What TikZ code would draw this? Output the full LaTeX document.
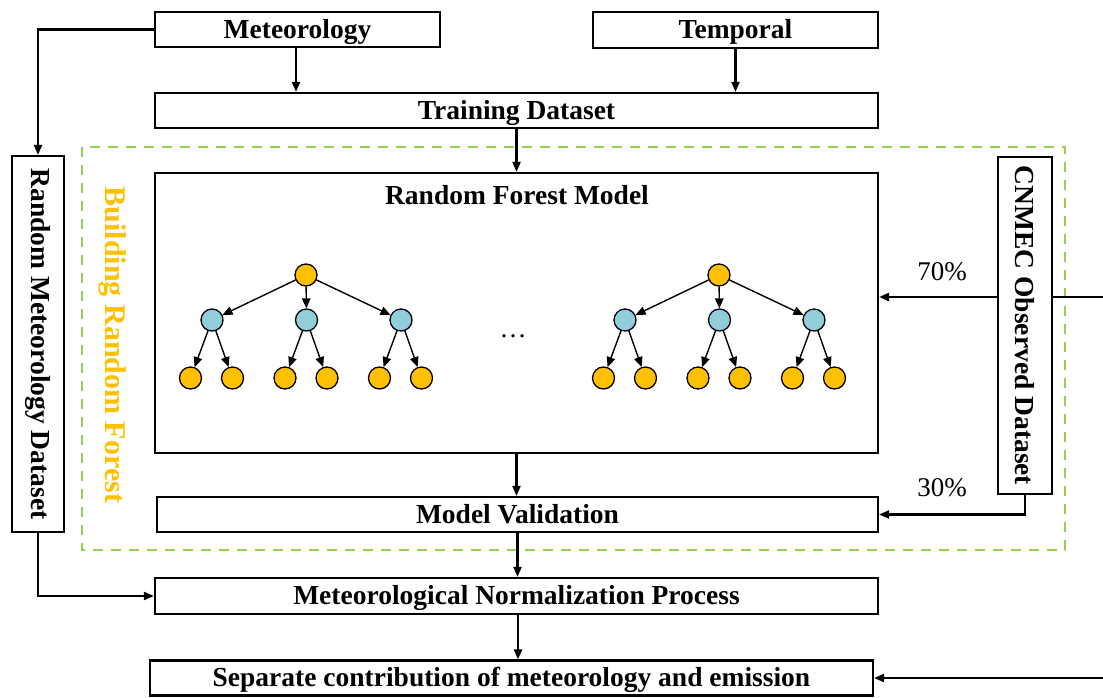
\documentclass[tikz,border=0pt]{standalone}
\usepackage{fontspec}
\setmainfont{Liberation Serif}
\usetikzlibrary{arrows.meta,calc}
\definecolor{rforange}{HTML}{FFC000}
\definecolor{rfblue}{HTML}{92CDDC}
\definecolor{rfgreen}{HTML}{92D050}
\begin{document}
\begin{tikzpicture}[x=1pt,y=-1pt,
  box/.style={draw=black,line width=2.2pt,fill=white,inner sep=0pt,text height=20pt,text depth=3pt,font=\fontsize{27.5}{32}\selectfont\bfseries},
  vbox/.style={draw=black,line width=2.2pt,fill=white,inner sep=0pt,font=\fontsize{27.5}{32}\selectfont\bfseries},
  arr/.style={line width=2.2pt,-{Triangle[length=10pt,width=8pt]}},
  lbl/.style={font=\fontsize{27}{32}\selectfont,inner sep=0pt},
  leafnode/.style={circle,draw=black,line width=1.3pt,fill=rforange,minimum size=22pt,inner sep=0pt},
  midnode/.style={circle,draw=black,line width=1.3pt,fill=rfblue,minimum size=22pt,inner sep=0pt},
  tarr/.style={line width=1.4pt,-{Triangle[length=10pt,width=8.5pt]}}]
\useasboundingbox (0,0) rectangle (1103,697);
% green dashed frame
\draw[rfgreen,line width=2.5pt,dash pattern=on 10pt off 8pt] (82,147) rectangle (1065,550);
% boxes
\node[box,minimum width=285,minimum height=35] (met) at (297.5,29.5) {Meteorology};
\node[box,minimum width=285,minimum height=36] (temp) at (735.5,30) {Temporal};
\node[box,minimum width=723,minimum height=35] (train) at (516.5,110.5) {Training Dataset};
\node[box,minimum width=723,minimum height=280] (rf) at (516.5,313) {};
\node[box,draw=none,fill=none] (rftitle) at (517,196) {Random Forest Model};
\node[box,minimum width=721,minimum height=35] (mv) at (517.5,514.5) {Model Validation};
\node[box,minimum width=723,minimum height=36] (mn) at (516.5,596) {Meteorological Normalization Process};
\node[box,minimum width=723,minimum height=35] (sep) at (511.5,678) {Separate contribution of meteorology and emission};
\node[vbox,minimum width=52,minimum height=376] (rmd) at (38,344) {\rotatebox{-90}{Random Meteorology Dataset}};
\node[vbox,minimum width=54,minimum height=337] (cn) at (1025,325.5) {\rotatebox{-90}{CNMEC Observed Dataset}};
\node[vbox,draw=none,fill=none,text=rforange,font=\fontsize{30}{34}\selectfont\bfseries] (brf) at (113,345) {\rotatebox{-90}{Building Random Forest}};
% trees
\foreach \t/\r in {L/306,R/719}{
  \node[leafnode] (\t root) at (\r,275) {};
  \foreach \i/\dx in {1/-94,2/0.5,3/95}{
    \node[midnode] (\t m\i) at (\r+\dx,320) {};
    \draw[tarr] (\t root) -- (\t m\i);
    \node[leafnode] (\t l\i a) at (\r+\dx-21.5,378) {};
    \node[leafnode] (\t l\i b) at (\r+\dx+20.5,378) {};
    \draw[tarr] (\t m\i) -- (\t l\i a);
    \draw[tarr] (\t m\i) -- (\t l\i b);
  }
}
\node[lbl] (dots) at (513,336) {…};
% connectors
\draw[arr] (met.west) -| (rmd.north);
\draw[arr] (met.south -| 296,0) -- (train.north -| 296,0);
\draw[arr] (temp.south) -- (temp.south |- train.north);
\draw[arr] (train.south) -- (rf.north);
\draw[arr] (rf.south) -- (rf.south |- mv.north);
\draw[arr] (mv.south) -- (mv.south |- mn.north);
\draw[arr] (mn.south -| 518,0) -- (sep.north -| 518,0);
\draw[arr] (rmd.south) |- (mn.west);
\coordinate (c70) at (1103,297);
\draw[line width=2.2pt] (cn.east |- c70) -- (c70);
\draw[arr] (cn.west |- c70) -- (rf.east |- c70);
\draw[arr] (cn.south) |- (mv.east);
\coordinate (c2) at (1103,678);
\draw[arr] (c2) -- (sep.east);
\node[lbl] (p70) at (942,272) {70\%};
\node[lbl] (p30) at (942,488) {30\%};
\end{tikzpicture}
\end{document}
